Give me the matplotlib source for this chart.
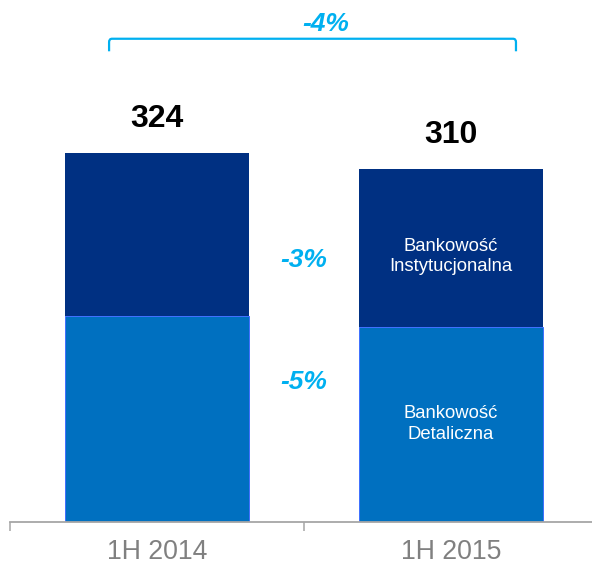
import numpy as np
import matplotlib.pyplot as plt
from matplotlib.path import Path
from matplotlib.patches import PathPatch

plt.rcParams['font.family'] = ['Liberation Sans', 'DejaVu Sans']

# dane (mln zł)
okresy = ['1H 2014', '1H 2015']
detaliczna = [181, 171]
instytucjonalna = [143, 139]
sumy = [324, 310]
zmiany_segmentow = ['-3%', '-5%']
zmiana_total = '-4%'

granat = '#003082'
niebieski = '#0070C0'
cyjan = '#00B0F0'
szary = '#808080'

fig = plt.figure(figsize=(5.92, 5.67), dpi=100)
ax = fig.add_axes([10 / 592, 45 / 567, 588 / 592, 522 / 567])

x = np.arange(len(okresy))
szer = 0.626
ax.bar(x, detaliczna, szer, color=niebieski, edgecolor='#3F6FFF', linewidth=0.7)
ax.bar(x, instytucjonalna, szer, bottom=detaliczna, color=granat, linewidth=0)

ax.set_xlim(-0.5, 1.5)
ax.set_ylim(0, 458)

# sumy nad słupkami
for xi, s in zip(x, sumy):
    ax.annotate(str(s), (xi, s), xytext=(0, 24), textcoords='offset points',
                ha='center', va='center', fontsize=23, fontweight='bold', color='black')

# etykiety segmentów
ax.text(1, 233, 'Bankowość\nInstytucjonalna', ha='center', va='center',
        color='white', fontsize=13.3, linespacing=1.25)
ax.text(1, 86, 'Bankowość\nDetaliczna', ha='center', va='center',
        color='white', fontsize=13.3, linespacing=1.25)

# zmiany procentowe segmentów
ax.text(0.5, 230, zmiany_segmentow[0], ha='center', va='center', color=cyjan,
        fontsize=19, fontweight='bold', style='italic')
ax.text(0.5, 123, zmiany_segmentow[1], ha='center', va='center', color=cyjan,
        fontsize=19, fontweight='bold', style='italic')

# klamra -4%
xl, xr, yt, yb = -0.163, 1.221, 424, 413
r = 0.01
verts = [(xl, yb), (xl, yt - 3), (xl, yt), (xl + r, yt), (xr - r, yt), (xr, yt), (xr, yt - 3), (xr, yb)]
codes = [Path.MOVETO, Path.LINETO, Path.CURVE3, Path.CURVE3, Path.LINETO, Path.CURVE3, Path.CURVE3, Path.LINETO]
ax.add_patch(PathPatch(Path(verts, codes), fill=False, edgecolor=cyjan, linewidth=1.6, clip_on=False))
ax.text(0.575, 437, zmiana_total, ha='center', va='center', color=cyjan,
        fontsize=19, fontweight='bold', style='italic')

# oś
for s in ['top', 'right', 'left']:
    ax.spines[s].set_visible(False)
ax.spines['bottom'].set_color('#A6A6A6')
ax.spines['bottom'].set_linewidth(1.3)
ax.set_yticks([])
ax.set_xticks(x)
ax.set_xticklabels(okresy, fontsize=19.2, color=szary)
ax.tick_params(axis='x', which='major', length=0, pad=12)
ax.set_xticks([-0.5, 0.5, 1.5], minor=True)
ax.tick_params(axis='x', which='minor', length=6.5, width=1.1, color='#A6A6A6')

fig.savefig('out.png', dpi=100)
